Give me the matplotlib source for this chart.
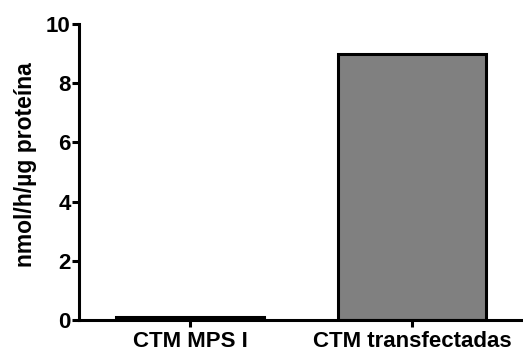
import matplotlib
matplotlib.use('Agg')
import matplotlib.pyplot as plt

categories = ['CTM MPS I', 'CTM transfectadas']
values = [0.1, 9.0]
bar_colors = ['#000000', '#808080']

plt.rcParams['font.family'] = ['Liberation Sans', 'DejaVu Sans']
plt.rcParams['font.weight'] = 'bold'

fig = plt.figure(figsize=(5.23, 3.55), dpi=100)
ax = fig.add_axes([0.151, 0.0986, 0.849, 0.8338])

ax.bar(range(len(categories)), values, width=0.67, color=bar_colors,
       edgecolor='black', linewidth=2.2)

ax.set_xlim(-0.5, 1.5)
ax.set_ylim(0, 10)
ax.set_yticks([0, 2, 4, 6, 8, 10])
ax.set_xticks(range(len(categories)))
ax.set_xticklabels(categories, fontsize=16, fontweight='bold')
ax.tick_params(axis='y', labelsize=16, width=2.2, length=5, pad=1)
ax.tick_params(axis='x', width=2.2, length=5, pad=3)
for lbl in ax.get_yticklabels():
    lbl.set_fontweight('bold')

ax.spines['top'].set_visible(False)
ax.spines['right'].set_visible(False)
ax.spines['left'].set_linewidth(2.2)
ax.spines['bottom'].set_linewidth(2.2)

ax.set_ylabel('nmol/h/µg proteína', fontsize=16.5, fontweight='bold')
ax.yaxis.set_label_coords(-0.095, 0.525)

fig.savefig('out.png', dpi=100)
